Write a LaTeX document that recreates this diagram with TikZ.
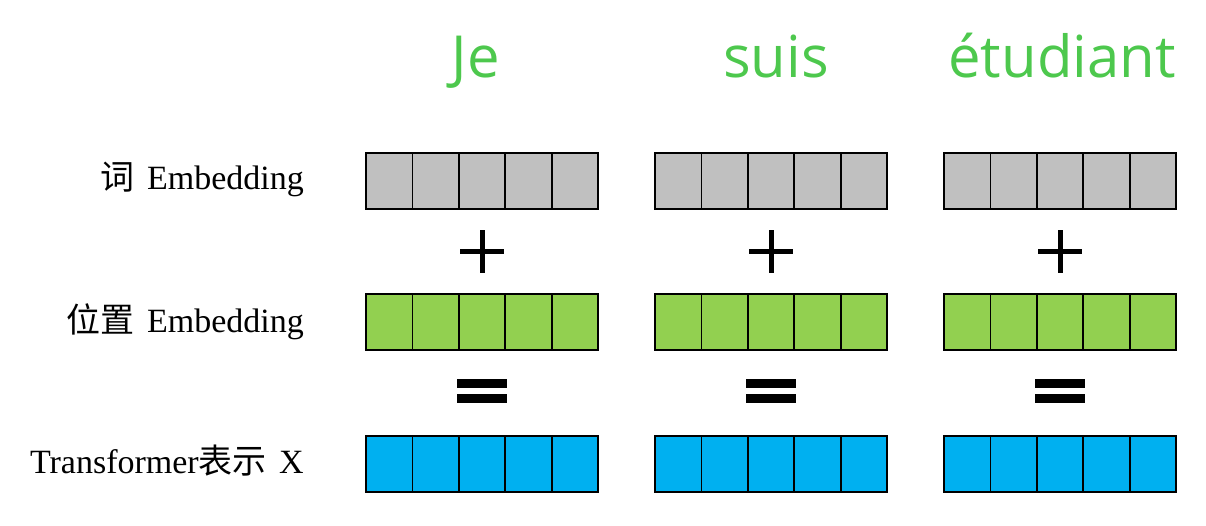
\documentclass[tikz,border=0pt]{standalone}
\usepackage{fontspec}
\setmainfont{Liberation Serif}
\newfontfamily\cjk{Noto Sans CJK SC}
\newfontfamily\wordfont{Open Sans}
\definecolor{wordgreen}{RGB}{77,200,77}
\definecolor{cellgray}{RGB}{192,192,192}
\definecolor{cellgreen}{RGB}{146,208,80}
\definecolor{cellblue}{RGB}{0,176,240}
\tikzset{
  cell/.style={draw=black,line width=1.8pt,minimum width=46.4pt,minimum height=56pt,inner sep=0pt,outer sep=0pt,anchor=west},
  word/.style={font=\wordfont\fontsize{58}{60}\selectfont,text=wordgreen,inner sep=0pt,anchor=base},
  rowlabel/.style={font=\fontsize{34}{36}\selectfont,inner sep=0pt,anchor=base east},
  sign/.style={fill=black,draw=none}
}
\begin{document}
\begin{tikzpicture}[x=1pt,y=-1pt]
\useasboundingbox (0,0) rectangle (1206,526);
% top words
\node[word] (w1) at (476,78) {Je};
\node[word] (w2) at (776,78) {suis};
\node[word] (w3) at (1062,78) {étudiant};
% row labels
\node[rowlabel] (l1) at (304,190) {{\cjk 词}\hspace{4pt} Embedding};
\node[rowlabel] (l2) at (304,332) {{\cjk 位置}\hspace{4pt} Embedding};
\node[rowlabel] (l3) at (304,473) {Transformer{\cjk 表示}\hspace{4pt} X};
% blocks
\foreach \g/\gx in {1/366,2/655,3/944}{
  \foreach \r/\ry/\col in {a/181/cellgray,b/322/cellgreen,c/464/cellblue}{
    \foreach \i in {0,...,4}{
      \node[cell,fill=\col] (c\g\r\i) at ({\gx+\i*46.4},\ry) {};
    }
  }
  % plus sign
  \fill[sign] ({\gx+116-22},{252-2.5}) rectangle ({\gx+116+22},{252+2.5});
  \fill[sign] ({\gx+116-2.5},{252-21.5}) rectangle ({\gx+116+2.5},{252+21.5});
  % equals sign
  \fill[sign] ({\gx+116-25},379) rectangle ({\gx+116+25},388);
  \fill[sign] ({\gx+116-25},394) rectangle ({\gx+116+25},403);
}
\end{tikzpicture}
\end{document}
